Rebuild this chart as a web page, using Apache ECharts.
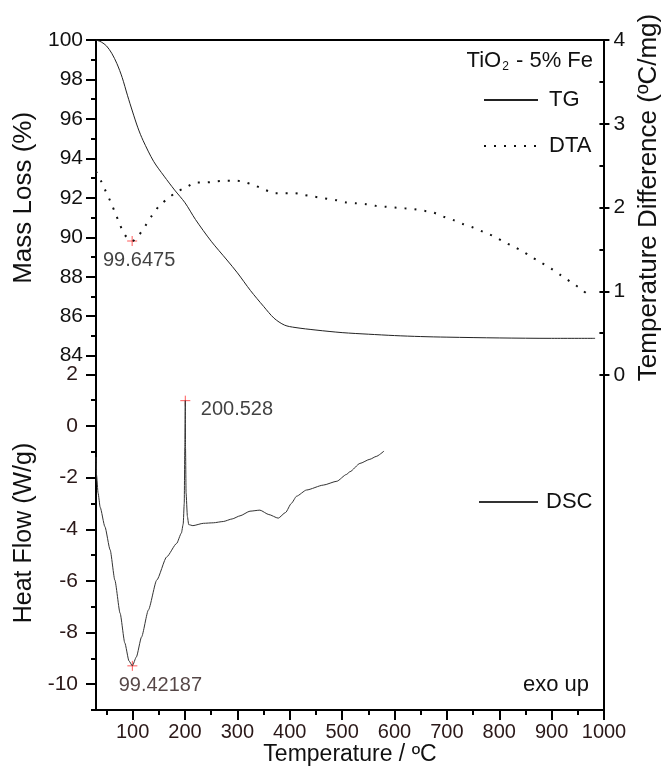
<!DOCTYPE html>
<html>
<head>
<meta charset="utf-8">
<script src="https://cdn.jsdelivr.net/npm/echarts@6/dist/echarts.min.js"></script>
<style>
  html, body { margin: 0; padding: 0; background: #fff; }
  #main { width: 670px; height: 772px; }
</style>
</head>
<body>
<div id="main"></div>
<script>
// TG mass loss (%) vs temperature
var tgTemp = [30, 40, 50, 60, 70, 80, 90, 100, 110, 120, 140, 160, 180, 200, 220, 250, 280, 300, 325, 350, 370, 390, 410, 450, 500, 550, 600, 650, 700, 800, 900, 983];
var tgMass = [100, 99.9, 99.7, 99.33, 98.8, 98.1, 97.2, 96.35, 95.55, 94.9, 93.85, 93.1, 92.4, 91.75, 90.9, 89.8, 88.85, 88.2, 87.3, 86.5, 85.9, 85.55, 85.43, 85.3, 85.17, 85.09, 85.02, 84.97, 84.94, 84.9, 84.88, 84.88];

// DTA temperature difference (ºC/mg)
var dtaTemp = [30, 41, 49, 58, 66, 74, 82, 90, 99.6475, 112.7, 125, 137.5, 152, 169, 187, 206, 223, 242, 260, 280, 299, 318, 337, 356, 375, 393, 412, 431, 450, 469, 491, 512, 531, 550, 569, 587, 606, 625, 644, 663, 680, 700, 719, 738, 757, 776, 795, 813, 832, 851, 869, 888, 907, 926, 945, 959, 978];
var dtaDiff = [2.43, 2.30, 2.19, 2.07, 1.95, 1.83, 1.71, 1.64, 1.60, 1.67, 1.78, 1.90, 2.02, 2.11, 2.19, 2.25, 2.30, 2.30, 2.31, 2.32, 2.32, 2.30, 2.26, 2.21, 2.17, 2.17, 2.17, 2.15, 2.13, 2.11, 2.09, 2.06, 2.05, 2.04, 2.02, 2.01, 2.00, 1.99, 1.98, 1.96, 1.94, 1.89, 1.85, 1.80, 1.76, 1.71, 1.66, 1.60, 1.54, 1.48, 1.41, 1.34, 1.27, 1.19, 1.11, 1.05, 0.96];

// DSC heat flow (W/g)
var dscTemp = [30, 31, 34, 38, 47, 57, 66, 76, 85, 93, 99.42187, 107, 117, 130, 146, 165, 184, 193, 196.5, 198.5, 199.6, 200.528, 200.9, 202, 204.5, 207, 215, 235, 254, 273, 290, 305, 324, 343, 360, 378, 392, 403, 413, 432, 464, 490, 508, 515, 534, 553, 565, 580];
var dscFlow = [-1.2, -1.9, -2.6, -3.15, -3.9, -4.8, -5.97, -7.25, -8.4, -9.1, -9.29, -8.95, -8.17, -7.13, -5.97, -5.07, -4.55, -4.15, -3.8, -3.0, -0.8, 0.98, -0.8, -2.6, -3.5, -3.82, -3.86, -3.77, -3.75, -3.7, -3.6, -3.48, -3.3, -3.26, -3.43, -3.57, -3.35, -3.0, -2.72, -2.48, -2.29, -2.14, -1.88, -1.77, -1.45, -1.29, -1.18, -0.97];

// marked peaks: [temperature, value]
var dtaPeak = [99.6475, 1.60];
var dscMin = [99.42187, -9.29];
var dscMax = [200.528, 0.98];

var xMajor = [100, 200, 300, 400, 500, 600, 700, 800, 900, 1000];
var xMinor = [50, 150, 250, 350, 450, 550, 650, 750, 850, 950];
var dscMajor = [-10, -8, -6, -4, -2, 0, 2];
var dscMinor = [-11, -9, -7, -5, -3, -1, 1];

function pairs(xs, ys) {
    return xs.map(function (x, i) { return [x, ys[i]]; });
}

var font = 'Liberation Sans, Arial, sans-serif';
var plus = 'path://M0,5L10,5M5,0L5,10';
var tickStyle = { width: 2, color: '#000' };

var myChart = echarts.init(document.getElementById('main'));
var option = {
    animation: false,
    backgroundColor: '#fff',
    textStyle: { fontFamily: font },
    title: [
        {
            text: '{a|TiO}{b|2}{a| - 5% Fe}',
            right: 72, top: 44,
            textStyle: {
                rich: {
                    a: { fontSize: 22, fontWeight: 'normal', color: '#111', fontFamily: font },
                    b: { fontSize: 12, fontWeight: 'normal', color: '#111', fontFamily: font, verticalAlign: 'bottom', padding: [12, 1, 0, 1] }
                }
            }
        },
        {
            text: 'exo up',
            right: 76, top: 669,
            textStyle: { fontSize: 22, fontWeight: 'normal', color: '#111', fontFamily: font }
        }
    ],
    legend: [
        {
            data: ['TG', 'DTA'],
            orient: 'vertical',
            left: 483, top: 89, padding: 0,
            itemWidth: 54, itemHeight: 14, itemGap: 24,
            selectedMode: false,
            itemStyle: { opacity: 0 },
            textStyle: { fontSize: 22, color: '#111', padding: [0, 0, 0, 6] }
        },
        {
            data: ['DSC'],
            left: 478, top: 491, padding: 0,
            itemWidth: 59, itemHeight: 14,
            selectedMode: false,
            itemStyle: { opacity: 0 },
            textStyle: { fontSize: 22, color: '#111', padding: [0, 0, 0, 3] }
        }
    ],
    grid: [
        { left: 96, width: 508, top: 40, height: 315.7 },
        { left: 96, width: 508, top: 356, height: 354 },
        { left: 96, width: 508, top: 40, height: 335 },
        { left: 96, width: 508, top: 356, height: 354 },
        // outer frame round both panels
        { left: 96, width: 508, top: 40, height: 670, show: true, borderColor: '#000', borderWidth: 2, backgroundColor: 'transparent' }
    ],
    xAxis: [
        { gridIndex: 0, type: 'value', min: 30, max: 1000, show: false },
        {
            gridIndex: 1, type: 'value', position: 'bottom', min: 30, max: 1000,
            name: 'Temperature / ºC', nameLocation: 'middle', nameGap: 22,
            nameTextStyle: { fontSize: 23, color: '#111' },
            axisLine: { show: false, onZero: false },
            axisTick: { customValues: xMajor, length: 10, lineStyle: tickStyle },
            axisLabel: { customValues: xMajor, fontSize: 20, margin: 12, color: '#2a1818', formatter: function (v) { return String(v); } },
            splitLine: { show: false }
        },
        { gridIndex: 2, type: 'value', min: 30, max: 1000, show: false },
        {
            gridIndex: 3, type: 'value', position: 'bottom', min: 30, max: 1000,
            axisLine: { show: false, onZero: false },
            axisTick: { customValues: xMinor, length: 5, lineStyle: tickStyle },
            axisLabel: { show: false }, splitLine: { show: false }
        },
        { gridIndex: 4, type: 'value', min: 30, max: 1000, show: false }
    ],
    yAxis: [
        {
            gridIndex: 0, type: 'value', position: 'left', min: 84, max: 100, interval: 2,
            name: 'Mass Loss (%)', nameLocation: 'middle', nameRotate: 90, nameGap: 56,
            nameTextStyle: { fontSize: 26, color: '#111' },
            axisLine: { show: false, onZero: false },
            axisTick: { length: 10, lineStyle: tickStyle },
            minorTick: { show: true, splitNumber: 2, length: 5, lineStyle: tickStyle },
            axisLabel: { fontSize: 21, margin: 13, color: '#111' },
            splitLine: { show: false }
        },
        {
            gridIndex: 1, type: 'value', position: 'left', min: -11, max: 2.71,
            name: 'Heat Flow (W/g)', nameLocation: 'middle', nameRotate: 90, nameGap: 44,
            nameTextStyle: { fontSize: 25, color: '#111' },
            axisLine: { show: false, onZero: false },
            axisTick: { customValues: dscMajor, length: 10, lineStyle: tickStyle },
            axisLabel: { customValues: dscMajor, fontSize: 21, margin: 18, color: '#2a1818' },
            splitLine: { show: false }
        },
        {
            gridIndex: 2, type: 'value', position: 'right', min: 0, max: 4, interval: 1,
            name: 'Temperature Difference (ºC/mg)', nameLocation: 'middle', nameRotate: 90, nameGap: 29,
            nameTextStyle: { fontSize: 26, color: '#111', padding: [0, 0, 0, 20] },
            axisLine: { show: false, onZero: false },
            axisTick: { length: 10, lineStyle: tickStyle },
            minorTick: { show: true, splitNumber: 2, length: 5, lineStyle: tickStyle },
            axisLabel: { fontSize: 21, margin: 14, color: '#111' },
            splitLine: { show: false }
        },
        {
            gridIndex: 3, type: 'value', position: 'left', min: -11, max: 2.71,
            axisLine: { show: false, onZero: false },
            axisTick: { customValues: dscMinor, length: 5, lineStyle: tickStyle },
            axisLabel: { show: false }, splitLine: { show: false }
        },
        { gridIndex: 4, type: 'value', min: 0, max: 1, show: false }
    ],
    series: [
        {
            name: 'TG', type: 'line', xAxisIndex: 0, yAxisIndex: 0,
            data: pairs(tgTemp, tgMass), symbol: 'none', smooth: 0.3,
            lineStyle: { color: '#222', width: 1 }, itemStyle: { color: '#222' }
        },
        {
            name: 'DTA', type: 'line', xAxisIndex: 2, yAxisIndex: 2,
            data: pairs(dtaTemp, dtaDiff), symbol: 'none', smooth: 0.3,
            lineStyle: { color: '#111', width: 2, type: [2, 8] }, itemStyle: { color: '#111' }
        },
        {
            name: 'DSC', type: 'line', xAxisIndex: 1, yAxisIndex: 1,
            data: pairs(dscTemp, dscFlow), symbol: 'none', smooth: 0.2, smoothMonotone: 'x',
            lineStyle: { color: '#333', width: 1 }, itemStyle: { color: '#333' }
        },
        {
            name: 'dtaPeak', type: 'scatter', xAxisIndex: 2, yAxisIndex: 2,
            data: [dtaPeak], symbol: plus, symbolSize: 10,
            itemStyle: { color: 'none', borderColor: '#ff3030', borderWidth: 1 },
            label: { show: true, position: 'bottom', distance: 2, offset: [7, 0], fontSize: 20, color: '#111', formatter: function (p) { return p.value[0]; } }
        },
        {
            name: 'dscMin', type: 'scatter', xAxisIndex: 1, yAxisIndex: 1,
            data: [dscMin], symbol: plus, symbolSize: 10,
            itemStyle: { color: 'none', borderColor: '#ff3030', borderWidth: 1 },
            label: { show: true, position: 'bottom', distance: 2, offset: [28, 0], fontSize: 20, color: '#2a1818', formatter: function (p) { return p.value[0]; } }
        },
        {
            name: 'dscMax', type: 'scatter', xAxisIndex: 1, yAxisIndex: 1,
            data: [dscMax], symbol: plus, symbolSize: 10,
            itemStyle: { color: 'none', borderColor: '#ff3030', borderWidth: 1 },
            label: { show: true, position: 'right', distance: 8, offset: [0, 9], fontSize: 20, color: '#111', formatter: function (p) { return p.value[0]; } }
        }
    ]
};
myChart.setOption(option, true);
</script>
</body>
</html>
